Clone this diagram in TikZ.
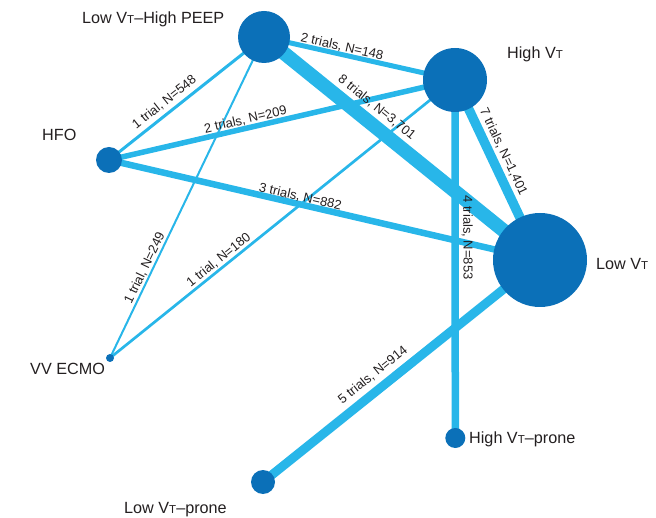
\documentclass[tikz,border=0pt]{standalone}
\usepackage{fontspec}
\setmainfont{Liberation Sans}
\usetikzlibrary{backgrounds}
\definecolor{nodeblue}{RGB}{11,112,184}
\definecolor{edgeblue}{RGB}{40,182,233}
\definecolor{txt}{RGB}{35,31,32}
\newcommand{\vtsub}{V{\fontsize{11.5}{11.5}\selectfont T}}
\begin{document}
\begin{tikzpicture}[x=1pt,y=-1pt,
  study/.style={circle, fill=nodeblue, inner sep=0pt, minimum size=#1},
  namelabel/.style={text=txt, font=\fontsize{16.2}{19}\selectfont, inner sep=0pt, anchor=base west},
  link/.style={draw=edgeblue, line width=#1},
  elabel/.style={text=txt, font=\fontsize{13}{15}\selectfont, sloped, inner sep=0pt},
]
\useasboundingbox (0,0) rectangle (656,518);
\node[study=52] (lvhp) at (264,37) {};
\node[study=64] (hvt) at (455,80) {};
\node[study=94] (lvt) at (540,260) {};
\node[study=26] (hfo) at (109,160) {};
\node[study=8] (ecmo) at (110,358) {};
\node[study=20] (hvtp) at (455.3,438) {};
\node[study=24] (lvtp) at (263,482) {};

\begin{scope}[on background layer]
\draw[link=5] (lvhp.center) -- (hvt.center);
\draw[link=14] (lvhp.center) -- (lvt.center);
\draw[link=3] (hfo.center) -- (lvhp.center);
\draw[link=5.5] (hfo.center) -- (hvt.center);
\draw[link=6.5] (hfo.center) -- (lvt.center);
\draw[link=2] (ecmo.center) -- (lvhp.center);
\draw[link=2.7] (ecmo.center) -- (hvt.center);
\draw[link=9.5] (hvt.center) -- (lvt.center);
\draw[link=7.5] (hvt.center) -- (hvtp.center);
\draw[link=9] (lvtp.center) -- (lvt.center);
\end{scope}

\path (lvhp.center) -- node[elabel, pos=0.40, above=1.8pt] (l1) {2 trials, N=148} (hvt.center);
\path (lvhp.center) -- node[elabel, pos=0.372, above=10.5pt] (l2) {8 trials, N=3,701} (lvt.center);
\path (hfo.center) -- node[elabel, pos=0.40, above=5pt] (l3) {1 trial, N=548} (lvhp.center);
\path (hfo.center) -- node[elabel, pos=0.40, above=2.5pt] (l4) {2 trials, N=209} (hvt.center);
\path (hfo.center) -- node[elabel, pos=0.44, above=1.5pt] (l5) {3 trials, N=882} (lvt.center);
\path (ecmo.center) -- node[elabel, pos=0.27, above=1.8pt] (l6) {1 trial, N=249} (lvhp.center);
\path (ecmo.center) -- node[elabel, pos=0.33, above=2.3pt] (l7) {1 trial, N=180} (hvt.center);
\path (hvt.center) -- node[elabel, pos=0.43, above=7.5pt] (l8) {7 trials, N=1,401} (lvt.center);
\path (hvt.center) -- node[elabel, pos=0.44, above=6.5pt] (l9) {4 trials, N=853} (hvtp.center);
\path (lvtp.center) -- node[elabel, pos=0.43, above=9pt] (l10) {5 trials, N=914} (lvt.center);

\node[namelabel] (lvhp-name) at (82,24) {Low \vtsub\textendash High PEEP};
\node[namelabel] (hvt-name) at (507,59) {High \vtsub};
\node[namelabel] (lvt-name) at (596,270) {Low \vtsub};
\node[namelabel] (hfo-name) at (42,141) {HFO};
\node[namelabel] (ecmo-name) at (30,375) {VV ECMO};
\node[namelabel] (hvtp-name) at (469,443) {High \vtsub\textendash prone};
\node[namelabel] (lvtp-name) at (124,513) {Low \vtsub\textendash prone};
\end{tikzpicture}
\end{document}
